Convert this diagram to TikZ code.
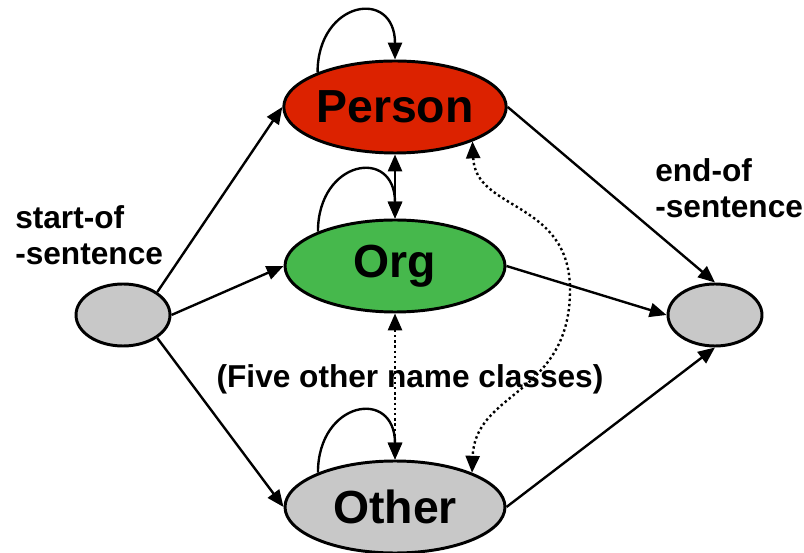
\documentclass[tikz,border=0pt]{standalone}
\usepackage{fontspec}
\setmainfont{Liberation Sans}
\usepackage{tikz}
\usetikzlibrary{arrows.meta,shapes}
\usetikzlibrary{positioning}
\definecolor{personred}{RGB}{220,34,0}
\definecolor{orggreen}{RGB}{70,184,76}
\definecolor{othergray}{RGB}{200,200,200}
\tikzstyle{class}=[ellipse,draw=black,line width=2.1pt,minimum width=5.5cm,
                minimum height=2.3cm,inner sep=0pt,font=\fontsize{33}{33}\selectfont\bfseries]
\tikzstyle{bound}=[ellipse,draw=black,line width=2.1pt,fill=othergray,
                minimum width=2.35cm,minimum height=1.55cm]
\tikzstyle{trans}=[line width=1.7pt,-{Triangle[length=12pt,width=10pt]}]
\tikzstyle{both}=[line width=1.7pt,{Triangle[length=12pt,width=10pt]}-{Triangle[length=12pt,width=10pt]}]
\tikzstyle{weak}=[dotted,line width=2pt]
\tikzstyle{tag}=[font=\fontsize{22.5}{26}\selectfont\bfseries,align=left,inner sep=0pt]

\begin{document}
\begin{tikzpicture}
\useasboundingbox (0,0) rectangle (20.1,13.8);

% name classes
\node[class,fill=personred] (person) at (9.875,11.125) {Person};
\node[class,fill=orggreen] (org) at (9.875,7.15) {Org};
\node[class,fill=othergray] (other) at (9.875,1.125) {Other};

% sentence bounds
\node[bound] (start) at (3.075,5.925) {};
\node[bound] (end) at (17.875,5.925) {};
\node[tag,anchor=north west] (startlbl) at (0.375,8.675) {start-of\\-sentence};
\node[tag,anchor=north west] (endlbl) at (16.375,9.85) {end-of\\-sentence};

\draw[trans] (start.north east) -- (person.west);
\draw[trans] (start.east) -- (org.west);
\draw[trans] (start.south east) -- (other.west);
\draw[trans] (person.east) -- (end.north);
\draw[trans] (org.east) -- (end.west);
\draw[trans] (other.east) -- (end.south);

% staying in the same class
\draw[trans] (person.156) .. controls +(0,1.8) and +(0,1.8) .. (person.north);
\draw[trans] (org.156) .. controls +(0,1.8) and +(0,1.8) .. (org.north);
\draw[trans] (other.156) .. controls +(0,1.8) and +(0,1.8) .. (other.north);

\draw[both] (person.south) -- (org.north);
\draw[weak,both] (org.south) -- (other.north);
\coordinate (swing) at (14.25,6.55);
\draw[weak,both] (person.-24) .. controls +(0.075,-1.75) and +(0,2.25) .. (swing)
  .. controls +(0,-2.625) and +(0.075,2.05) .. (other.24);

\node[tag,anchor=base] (fivelbl) at (10.25,4.1) {(Five other name classes)};
\end{tikzpicture}
\end{document}
